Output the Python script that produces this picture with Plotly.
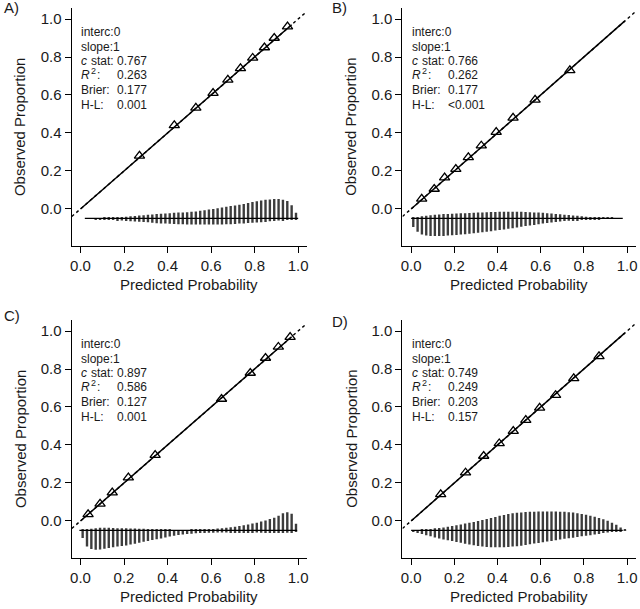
import plotly.graph_objects as go

# ---------------- data ----------------
panel_labels = ["A)", "B)", "C)", "D)"]
tick_vals = [0.0, 0.2, 0.4, 0.6, 0.8, 1.0]

# decile points (predicted, observed)
tri_A_x = [0.271, 0.431, 0.530, 0.609, 0.677, 0.735, 0.791, 0.845, 0.890, 0.951]
tri_A_y = [0.280, 0.440, 0.532, 0.610, 0.680, 0.740, 0.795, 0.850, 0.900, 0.960]
tri_B_x = [0.049, 0.107, 0.155, 0.207, 0.265, 0.325, 0.394, 0.472, 0.574, 0.735]
tri_B_y = [0.053, 0.105, 0.165, 0.210, 0.272, 0.333, 0.405, 0.480, 0.574, 0.730]
tri_C_x = [0.035, 0.090, 0.146, 0.220, 0.343, 0.648, 0.780, 0.850, 0.909, 0.963]
tri_C_y = [0.035, 0.090, 0.149, 0.228, 0.347, 0.642, 0.779, 0.858, 0.916, 0.968]
tri_D_x = [0.137, 0.252, 0.336, 0.408, 0.473, 0.531, 0.595, 0.669, 0.753, 0.870]
tri_D_y = [0.140, 0.254, 0.342, 0.408, 0.473, 0.531, 0.595, 0.662, 0.751, 0.867]

# smooth calibration curves
curve_A_x = [0.0, 0.20, 0.40, 0.60, 0.80, 0.97]
curve_A_y = [0.0, 0.20, 0.40, 0.60, 0.80, 0.97]
curve_B_x = [0.0, 0.20, 0.40, 0.60, 0.80, 0.99]
curve_B_y = [0.0, 0.20, 0.40, 0.60, 0.80, 0.99]
curve_C_x = [0.0, 0.20, 0.40, 0.60, 0.80, 0.97]
curve_C_y = [0.0, 0.20, 0.40, 0.60, 0.80, 0.97]
curve_D_x = [0.0, 0.20, 0.40, 0.60, 0.80, 0.99]
curve_D_y = [0.0, 0.20, 0.40, 0.60, 0.80, 0.99]

ideal_x = [-0.04, 1.04]
ideal_y = [-0.04, 1.04]

# spike histogram
spike_base = -0.05
spike_x = [0.01, 0.03, 0.05, 0.07, 0.09, 0.11, 0.13, 0.15, 0.17, 0.19,
           0.21, 0.23, 0.25, 0.27, 0.29, 0.31, 0.33, 0.35, 0.37, 0.39,
           0.41, 0.43, 0.45, 0.47, 0.49, 0.51, 0.53, 0.55, 0.57, 0.59,
           0.61, 0.63, 0.65, 0.67, 0.69, 0.71, 0.73, 0.75, 0.77, 0.79,
           0.81, 0.83, 0.85, 0.87, 0.89, 0.91, 0.93, 0.95, 0.97, 0.99]

up_A = [0.0, 0.001, 0.001, 0.002, 0.002, 0.003, 0.004, 0.005, 0.006, 0.008,
        0.009, 0.011, 0.013, 0.015, 0.017, 0.019, 0.021, 0.023, 0.025, 0.026,
        0.028, 0.030, 0.031, 0.032, 0.033, 0.035, 0.037, 0.040, 0.043, 0.047,
        0.050, 0.054, 0.058, 0.061, 0.065, 0.068, 0.072, 0.076, 0.081, 0.086,
        0.091, 0.095, 0.098, 0.100, 0.102, 0.102, 0.099, 0.092, 0.070, 0.030]
down_A = [0.0, 0.001, 0.002, 0.003, 0.004, 0.005, 0.005, 0.007, 0.009, 0.011,
          0.013, 0.015, 0.016, 0.017, 0.018, 0.020, 0.022, 0.025, 0.026, 0.027,
          0.028, 0.029, 0.030, 0.031, 0.032, 0.032, 0.032, 0.032, 0.032, 0.032,
          0.032, 0.032, 0.032, 0.031, 0.030, 0.029, 0.027, 0.026, 0.024, 0.023,
          0.021, 0.020, 0.018, 0.015, 0.013, 0.011, 0.009, 0.007, 0.005, 0.003]

up_B = [0.004, 0.008, 0.012, 0.014, 0.017, 0.020, 0.021, 0.023, 0.024, 0.025,
        0.026, 0.027, 0.028, 0.029, 0.030, 0.031, 0.032, 0.033, 0.034, 0.034,
        0.035, 0.035, 0.035, 0.035, 0.035, 0.035, 0.034, 0.033, 0.032, 0.031,
        0.030, 0.028, 0.026, 0.024, 0.022, 0.020, 0.018, 0.016, 0.014, 0.011,
        0.009, 0.008, 0.007, 0.006, 0.005, 0.004, 0.003, 0.002, 0.002, 0.0]
down_B = [0.045, 0.070, 0.085, 0.090, 0.092, 0.093, 0.093, 0.092, 0.090, 0.088,
          0.087, 0.085, 0.083, 0.080, 0.078, 0.075, 0.073, 0.070, 0.067, 0.064,
          0.061, 0.058, 0.054, 0.051, 0.047, 0.043, 0.040, 0.037, 0.034, 0.031,
          0.027, 0.024, 0.021, 0.018, 0.016, 0.014, 0.012, 0.010, 0.009, 0.007,
          0.005, 0.004, 0.003, 0.003, 0.002, 0.001, 0.001, 0.001, 0.0, 0.0]

up_C = [0.003, 0.006, 0.009, 0.012, 0.014, 0.014, 0.014, 0.013, 0.012, 0.011,
        0.011, 0.010, 0.010, 0.009, 0.009, 0.008, 0.007, 0.006, 0.005, 0.004,
        0.003, 0.002, 0.002, 0.002, 0.002, 0.003, 0.003, 0.004, 0.005, 0.006,
        0.008, 0.010, 0.012, 0.014, 0.017, 0.020, 0.023, 0.027, 0.031, 0.036,
        0.041, 0.047, 0.053, 0.060, 0.067, 0.078, 0.090, 0.096, 0.088, 0.035]
down_C = [0.040, 0.085, 0.098, 0.102, 0.100, 0.096, 0.092, 0.088, 0.085, 0.082,
          0.079, 0.074, 0.070, 0.065, 0.060, 0.055, 0.050, 0.046, 0.042, 0.037,
          0.032, 0.028, 0.024, 0.021, 0.019, 0.017, 0.015, 0.014, 0.013, 0.012,
          0.012, 0.011, 0.011, 0.011, 0.010, 0.010, 0.009, 0.009, 0.010, 0.010,
          0.011, 0.012, 0.013, 0.014, 0.014, 0.014, 0.013, 0.012, 0.010, 0.006]

up_D = [0.001, 0.002, 0.004, 0.006, 0.008, 0.011, 0.013, 0.016, 0.020, 0.023,
        0.027, 0.031, 0.036, 0.041, 0.045, 0.050, 0.055, 0.060, 0.065, 0.071,
        0.077, 0.082, 0.086, 0.090, 0.093, 0.095, 0.097, 0.098, 0.099, 0.100,
        0.100, 0.100, 0.100, 0.100, 0.099, 0.098, 0.096, 0.094, 0.091, 0.087,
        0.083, 0.077, 0.072, 0.066, 0.059, 0.051, 0.041, 0.030, 0.016, 0.005]
down_D = [0.008, 0.014, 0.019, 0.025, 0.031, 0.037, 0.042, 0.047, 0.052, 0.056,
          0.061, 0.065, 0.070, 0.074, 0.078, 0.082, 0.085, 0.087, 0.088, 0.088,
          0.088, 0.088, 0.087, 0.085, 0.083, 0.080, 0.077, 0.073, 0.069, 0.066,
          0.062, 0.058, 0.055, 0.051, 0.048, 0.044, 0.041, 0.038, 0.034, 0.031,
          0.028, 0.025, 0.021, 0.018, 0.014, 0.011, 0.008, 0.006, 0.004, 0.002]

baseline_A = [0.02, 1.0]
baseline_B = [0.0, 0.98]
baseline_C = [-0.005, 0.995]
baseline_D = [0.0, 0.98]

stat_names = ["interc:", "slope:", "c stat:", "R2:", "Brier:", "H-L:"]
stats_A = ["0", "1", "0.767", "0.263", "0.177", "0.001"]
stats_B = ["0", "1", "0.766", "0.262", "0.177", "<0.001"]
stats_C = ["0", "1", "0.897", "0.586", "0.127", "0.001"]
stats_D = ["0", "1", "0.749", "0.249", "0.203", "0.157"]

# ---------------- layout geometry ----------------
W, H = 640, 609
x_dom_px = [(70.2, 306.8), (403.0, 637.7), (70.2, 306.8), (403.0, 637.7)]
y_dom_px = [(8, 246), (8, 246), (320, 558), (320, 558)]
letter_pos = [(0, 8), (330, 8), (0, 315), (330, 321)]
XR = [-0.04, 1.04]
YR = [-0.195, 1.058]

FONT = "Liberation Sans, Arial, Helvetica, sans-serif"
INK = "#1a1a1a"

panels = [
    (tri_A_x, tri_A_y, curve_A_x, curve_A_y, up_A, down_A, baseline_A, stats_A),
    (tri_B_x, tri_B_y, curve_B_x, curve_B_y, up_B, down_B, baseline_B, stats_B),
    (tri_C_x, tri_C_y, curve_C_x, curve_C_y, up_C, down_C, baseline_C, stats_C),
    (tri_D_x, tri_D_y, curve_D_x, curve_D_y, up_D, down_D, baseline_D, stats_D),
]

fig = go.Figure()
annotations = []
layout_axes = {}
stat_y = [0.932, 0.855, 0.779, 0.703, 0.624, 0.545]
SF = dict(size=12, color=INK, family=FONT)
SFI = dict(size=12, color=INK, family=FONT, style="italic")


def ann(text, xa, ya, x, y, font, xshift=0, yshift=0):
    return dict(text=text, xref=xa, yref=ya, x=x, y=y, xanchor="left", yanchor="middle",
                showarrow=False, font=font, xshift=xshift, yshift=yshift,
                borderpad=0, borderwidth=0)


for i, (tx, ty, cx, cy, up, down, bl, stats) in enumerate(panels):
    n = "" if i == 0 else str(i + 1)
    xa, ya = "x" + n, "y" + n
    fig.add_trace(go.Bar(x=spike_x, y=up, base=spike_base, width=0.011,
                         marker=dict(color="#3c3c3c", line=dict(width=0)),
                         xaxis=xa, yaxis=ya, showlegend=False))
    fig.add_trace(go.Bar(x=spike_x, y=down, base=[spike_base - d for d in down], width=0.011,
                         marker=dict(color="#3c3c3c", line=dict(width=0)),
                         xaxis=xa, yaxis=ya, showlegend=False))
    fig.add_trace(go.Scatter(x=bl, y=[spike_base, spike_base], mode="lines",
                             line=dict(color="black", width=1.3),
                             xaxis=xa, yaxis=ya, showlegend=False))
    fig.add_trace(go.Scatter(x=ideal_x, y=ideal_y, mode="lines",
                             line=dict(color="black", width=1.4, dash="dot"),
                             xaxis=xa, yaxis=ya, showlegend=False))
    fig.add_trace(go.Scatter(x=cx, y=cy, mode="lines",
                             line=dict(color="black", width=1.5),
                             xaxis=xa, yaxis=ya, showlegend=False))
    fig.add_trace(go.Scatter(x=tx, y=ty, mode="markers",
                             marker=dict(symbol="triangle-up-open", size=9, color="black",
                                         line=dict(width=1.3, color="black")),
                             xaxis=xa, yaxis=ya, showlegend=False))

    x0, x1 = x_dom_px[i]
    y0, y1 = y_dom_px[i]
    common = dict(showline=True, linecolor="black", linewidth=1.3, ticks="outside",
                  ticklen=6, tickwidth=1.3, tickcolor="black", showgrid=False,
                  zeroline=False, tickvals=tick_vals, tickformat=".1f",
                  tickfont=dict(size=15, color=INK, family=FONT), fixedrange=True)
    layout_axes["xaxis" + n] = dict(common, domain=[x0 / W, x1 / W], range=XR, anchor=ya)
    layout_axes["yaxis" + n] = dict(common, domain=[1 - y1 / H, 1 - y0 / H], range=YR, anchor=xa)

    annotations.append(dict(text="Predicted Probability", xref="paper", yref="paper",
                            x=(x0 + x1) / 2 / W, y=1 - (y1 + 38) / H, xanchor="center",
                            yanchor="middle", showarrow=False,
                            font=dict(size=15, color=INK, family=FONT)))
    annotations.append(dict(text="Observed Proportion", xref="paper", yref="paper",
                            x=(x0 - 52) / W, y=1 - (y0 + y1) / 2 / H, xanchor="center",
                            yanchor="middle", textangle=-90, showarrow=False,
                            font=dict(size=15, color=INK, family=FONT)))
    lx, ly = letter_pos[i]
    annotations.append(dict(text=panel_labels[i], xref="paper", yref="paper",
                            x=lx / W, y=1 - ly / H, xanchor="left", yanchor="middle",
                            showarrow=False, font=dict(size=15, color=INK, family=FONT)))

    lx0, vx0 = 0.003, 0.17
    annotations.append(ann(stat_names[0] + stats[0], xa, ya, lx0, stat_y[0], SF))
    annotations.append(ann(stat_names[1] + stats[1], xa, ya, lx0, stat_y[1], SF))
    # c stat (italic c)
    annotations.append(ann("c", xa, ya, lx0, stat_y[2], SFI))
    annotations.append(ann("stat:", xa, ya, lx0, stat_y[2], SF, xshift=10))
    annotations.append(ann(stats[2], xa, ya, vx0, stat_y[2], SF))
    # R^2 (italic R, superscript 2)
    annotations.append(ann("R", xa, ya, lx0, stat_y[3], SFI))
    annotations.append(ann("2", xa, ya, lx0, stat_y[3], dict(size=9, color=INK, family=FONT),
                           xshift=10, yshift=4))
    annotations.append(ann(":", xa, ya, lx0, stat_y[3], SF, xshift=16))
    annotations.append(ann(stats[3], xa, ya, vx0, stat_y[3], SF))
    annotations.append(ann(stat_names[4], xa, ya, lx0, stat_y[4], SF))
    annotations.append(ann(stats[4], xa, ya, vx0, stat_y[4], SF))
    annotations.append(ann(stat_names[5], xa, ya, lx0, stat_y[5], SF))
    annotations.append(ann(stats[5], xa, ya, vx0, stat_y[5], SF))

fig.update_layout(width=W, height=H, margin=dict(l=0, r=0, t=0, b=0),
                  paper_bgcolor="white", plot_bgcolor="white", barmode="overlay",
                  annotations=annotations, font=dict(family=FONT, color=INK),
                  **layout_axes)

fig.write_html("out.html", config={"displayModeBar": False},
               post_script="document.body.style.margin='0';document.body.style.overflow='hidden';")
